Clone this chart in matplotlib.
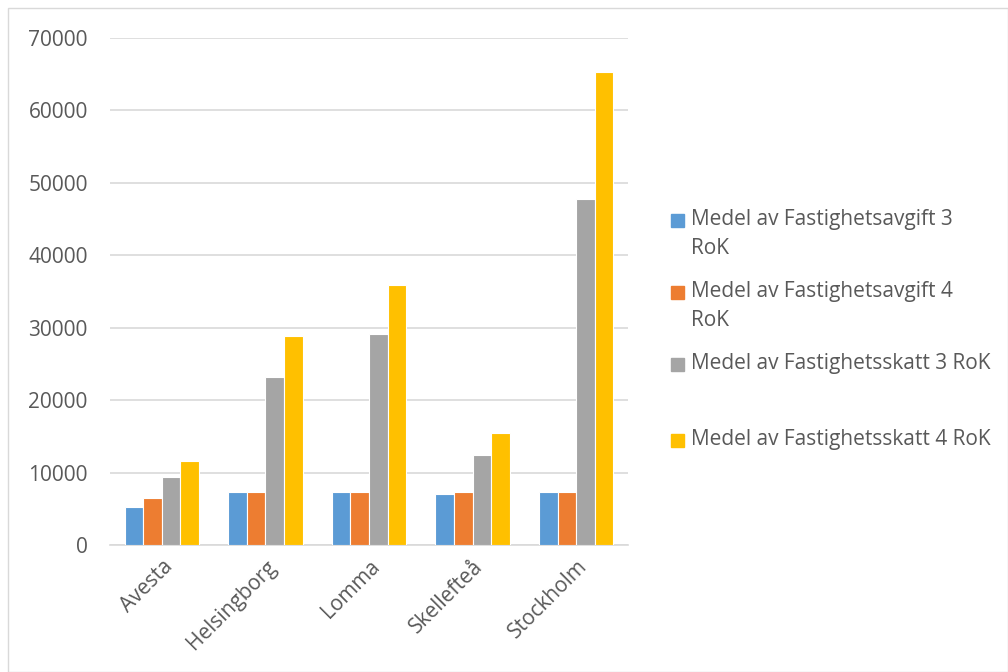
import matplotlib

matplotlib.use("Agg")
import matplotlib.pyplot as plt
import numpy as np
from matplotlib.patches import Rectangle

plt.rcParams["font.family"] = ["Open Sans", "DejaVu Sans"]

kommuner = ["Avesta", "Helsingborg", "Lomma", "Skellefteå", "Stockholm"]
serier = [
    "Medel av Fastighetsavgift 3\nRoK",
    "Medel av Fastighetsavgift 4\nRoK",
    "Medel av Fastighetsskatt 3 RoK",
    "Medel av Fastighetsskatt 4 RoK",
]
avgift_3 = [5250, 7300, 7300, 7050, 7300]
avgift_4 = [6500, 7300, 7300, 7300, 7300]
skatt_3 = [9400, 23200, 29100, 12400, 47800]
skatt_4 = [11600, 28900, 35900, 15450, 65300]
yticks = [0, 10000, 20000, 30000, 40000, 50000, 60000, 70000]

farger = ["#5b9bd5", "#ed7d31", "#a5a5a5", "#ffc000"]
textfarg = "#595959"
gridfarg = "#d9d9d9"

W, H = 1008, 672
fig = plt.figure(figsize=(W / 100, H / 100), dpi=100)
ax = fig.add_axes([110 / W, 1 - 545 / H, 518 / W, 507 / H])

x = np.arange(len(kommuner))
bredd = 0.18
varden = [avgift_3, avgift_4, skatt_3, skatt_4]
for i, (v, f) in enumerate(zip(varden, farger)):
    ax.bar(x + (i - 1.5) * bredd, v, bredd, color=f, edgecolor="white",
           linewidth=0.8, zorder=3)

ax.set_xlim(-0.5, len(kommuner) - 0.5)
ax.set_ylim(0, 70000)
ax.set_yticks(yticks)
ax.set_yticklabels([str(t) for t in yticks], fontsize=15, color=textfarg)
ax.set_xticks(x)
ax.set_xticklabels(kommuner, rotation=45, ha="right", rotation_mode="anchor",
                   fontsize=15, color=textfarg)
ax.tick_params(axis="y", length=0, pad=16)
ax.tick_params(axis="x", length=0, pad=8)
ax.grid(axis="y", color=gridfarg, lw=1.2, zorder=0)
for s in ["top", "right", "left"]:
    ax.spines[s].set_visible(False)
ax.spines["bottom"].set_color(gridfarg)
ax.spines["bottom"].set_linewidth(1.2)

# legend drawn by hand so the marker sits beside the first line
leg_y = [220, 292, 364, 440]
for namn, f, y in zip(serier, farger, leg_y):
    fig.patches.append(Rectangle((671 / W, 1 - (y + 7) / H), 13 / W, 13 / H,
                                 transform=fig.transFigure, color=f))
    fig.text(691 / W, 1 - (y - 11) / H, namn, ha="left", va="top",
             fontsize=15, color=textfarg, linespacing=1.5)

# chart frame
fig.patches.append(Rectangle((8 / W, 0), 1 - 8 / W, 1 - 8 / H,
                             transform=fig.transFigure, fill=False,
                             ec=gridfarg, lw=1))

fig.savefig("out.png", dpi=100)
